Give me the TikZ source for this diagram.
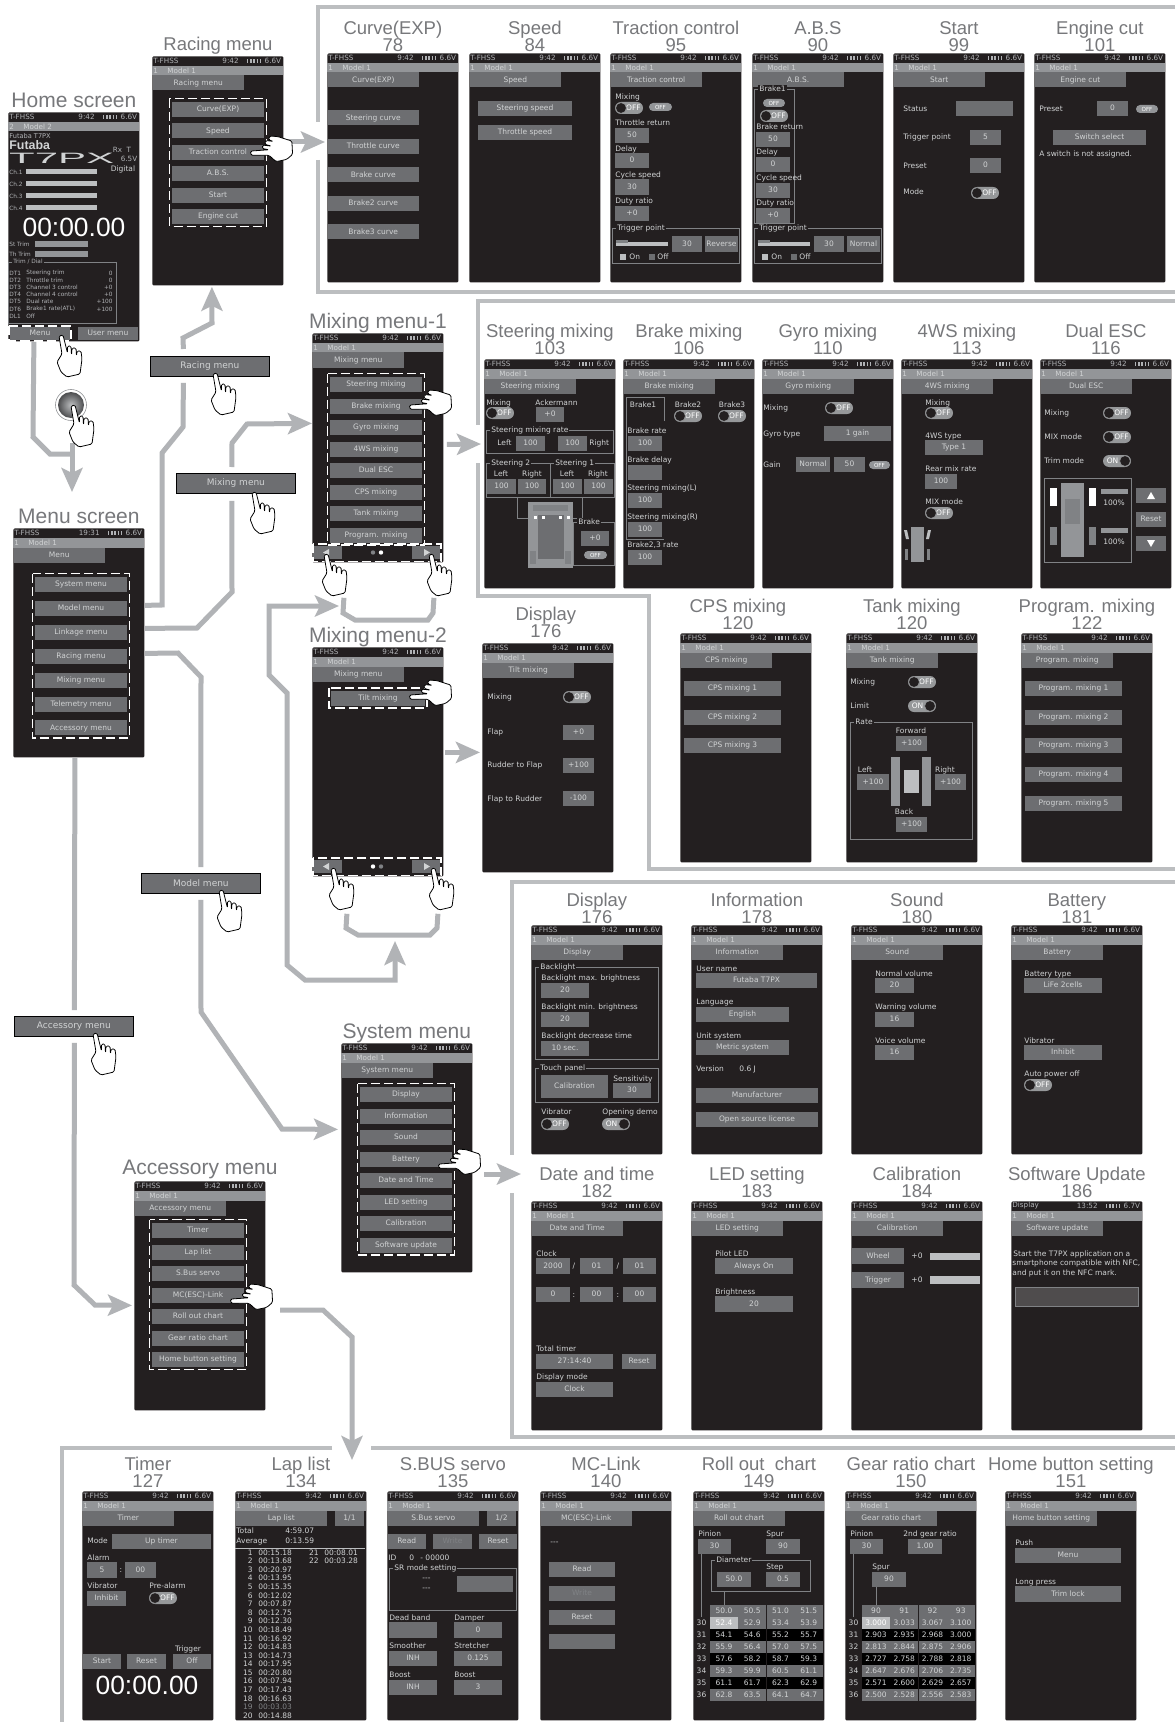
\documentclass[tikz,border=0pt]{standalone}
\usepackage{fontspec}
\setmainfont{Liberation Sans}
\newfontfamily\scfont{DejaVu Sans}
\usetikzlibrary{arrows.meta,calc}

\definecolor{scrbg}{HTML}{231F20}
\definecolor{btnc}{HTML}{6D6E71}
\definecolor{barc}{HTML}{939598}
\definecolor{scrtxt}{HTML}{D1D3D4}
\definecolor{sttxt}{HTML}{B1B3B6}
\definecolor{dimc}{HTML}{808285}
\definecolor{hic}{HTML}{BCBEC0}
\definecolor{ttlc}{HTML}{77787B}
\definecolor{lnc}{HTML}{B1B3B6}
\definecolor{grpc}{HTML}{808285}

\newcounter{nd}
\newcommand{\sctiny}{\scfont\fontsize{3.75}{4.4}\selectfont}
\tikzset{
	nm/.code={\stepcounter{nd}\tikzset{name=t\arabic{nd}}},
	scrbox/.style={fill=scrbg, rounded corners=0.6pt, inner sep=0pt, minimum width=65.5pt, minimum height=114.5pt},
	ttl/.style={anchor=south, inner sep=0pt, yshift=0.5pt, text depth=0pt, align=center, text=ttlc, font=\fontsize{9.25}{8.6}\selectfont},
	bigttl/.style={ttl, yshift=1.5pt, font=\fontsize{10.5}{9}\selectfont},
	sc/.style={nm, inner sep=0pt, text=scrtxt, text height=2.9pt, text depth=0.7pt, font=\sctiny},
	lab/.style={sc, anchor=west},
	stlab/.style={nm, inner sep=0pt, text=sttxt, font=\scfont\fontsize{3.6}{4}\selectfont},
	tinylab/.style={stlab, font=\scfont\fontsize{2.9}{3}\selectfont},
	conn/.style={draw=lnc, line width=2.5pt},
	arr/.style={conn, -{Stealth[length=12pt,width=10.5pt,inset=2.5pt]}},
	frm/.style={draw=hic, line width=2pt},
	dashbox/.style={draw=white, line width=0.85pt, dash pattern=on 4.6pt off 2pt},
	grpline/.style={draw=grpc, line width=0.4pt},
	menubtn/.style={draw=black, line width=0.4pt, fill=btnc, inner sep=0pt, minimum width=59.5pt, minimum height=10pt,
		text=scrtxt, font=\scfont\fontsize{4.5}{5}\selectfont},
	bigtime/.style={nm, inner sep=0pt, text=white, font=\fontsize{13.2}{14}\selectfont},
	hand/.pic={
		\draw[fill=white, line width=0.4pt, rounded corners=0.7pt, line join=round]
			(-1,1) -- (2,19) -- (-3,27) -- (1,37) -- (7,42) -- (20,39) -- (22,24) -- (21,16) -- (17,16)
			-- (16.5,21) -- (16,13) -- (12,13) -- (11.5,20) -- (11,11) -- (7.5,11) -- (7.5,18) -- (3,0) -- cycle;
	}
}

\def\sttag{T-FHSS}\def\sttime{9:42}\def\stvolt{6.6V}\def\stnum{1}\def\stmodel{Model 1}

% button from corner to corner
\newcommand{\btn}[5]{\path[fill=btnc] (#1,#2) rectangle node[sc] {#5} (#3,#4);}
\newcommand{\dimbtn}[5]{\path[fill=btnc] (#1,#2) rectangle node[sc,text=dimc] {#5} (#3,#4);}
\newcommand{\lab}[3]{\node[lab] at (#1,#2) {#3};}
\newcommand{\tog}[2]{
	\fill[hic!80!black, rounded corners=3pt] (#1,#2) rectangle (#1+28,#2+12);
	\node[sc, text=white] at (#1+18.5,#2+6) {OFF};
	\draw[fill=scrbg, draw=hic!80!black, line width=0.3pt] (#1+6,#2+6) circle (2.7pt);}
\newcommand{\togon}[2]{
	\fill[hic!80!black, rounded corners=3pt] (#1,#2) rectangle (#1+28,#2+12);
	\node[sc, text=white] at (#1+9.5,#2+6) {ON};
	\draw[fill=scrbg, draw=hic!80!black, line width=0.3pt] (#1+22,#2+6) circle (2.7pt);}
\newcommand{\pill}[3]{
	\path[fill=barc, rounded corners=2pt] (#1,#3-4) rectangle node[sc, text=white, font=\scfont\fontsize{2.8}{3}\selectfont] {OFF} (#2,#3+4);}
\newcommand{\grp}[5]{
	\draw[grpline] (#1,#2) rectangle (#3,#4);
	\node[lab, fill=scrbg, inner xsep=0.5pt] at (#1+4,#2) {#5};}

% one transmitter screen with its title
\newcommand{\scrn}[8][ttl]{
	\node[scrbox, anchor=north west] (#2) at (#3,#4) {};
	\node[#1] (#2t) at (#2.north) {#5};
	\begin{scope}[shift={(#3,#4)}]
		\node[stlab, anchor=west] at (1,5) {\sttag};
		\node[stlab, anchor=east] at (87,5) {\sttime};
		\draw[sttxt, line width=1.6pt, dash pattern=on 0.7pt off 0.9pt] (95,5) -- (110,5);
		\node[stlab, anchor=east] at (129.5,5) {\stvolt};
		\fill[barc] (0.3,10) rectangle (130.7,19.5);
		\node[stlab, anchor=west, text=scrtxt] at (1,14.8) {\stnum};
		\node[stlab, anchor=west, text=scrtxt] at (15,14.8) {\stmodel};
		\ifnum#7>0 \btn{0.5}{19.5}{#7}{34.5}{#6}\fi
		#8
	\end{scope}}

% list of menu entries inside the dashed frame
\newcommand{\menulist}[5]{
	\foreach \itm [count=\i] in {#5} {
		\pgfmathsetmacro\yy{#2+(\i-1)*#3}
		\pgfmathsetmacro\yb{\yy+15}
		\pgfmathsetmacro\xb{#1+92}
		\btn{#1}{\yy}{\xb}{\yb}{\itm}
	}
	\draw[dashbox] (#1-2.5,#2-3.5) rectangle (#1+94.5,#2+#4*#3-#3+17.5);}

% page buttons at the foot of the mixing menus
\newcommand{\navbar}[2]{
	\fill[btnc] (1,213) rectangle (30,226);
	\fill[btnc] (100,213) rectangle (128,226);
	\fill[scrtxt] (11,219.5) -- (17,216) -- (17,223) -- cycle;
	\fill[scrtxt] (118,219.5) -- (112,216) -- (112,223) -- cycle;
	\fill[#1] (61,219.5) circle (1.1pt);
	\fill[#2] (69,219.5) circle (1.1pt);
	\draw[dashbox] (1,211) rectangle (129,228.5);}

\newcommand{\trigbox}[1]{
	\grp{2}{175}{129}{210}{Trigger point}
	\fill[hic] (6,189) rectangle (58,193);
	\fill[dimc] (6,187) rectangle (18,190);
	\btn{62}{183}{92}{199}{30}
	\btn{95}{183}{128}{199}{#1}
	\fill[hic] (10,201) rectangle (16,207);
	\lab{19}{204}{On}
	\fill[btnc] (39,201) rectangle (45,207);
	\lab{47}{204}{Off}}

% pinion table of the two charts
\newcommand{\chart}[3]{
	\foreach \h [count=\i] in {#1} {
		\pgfmathsetmacro\xa{17+(\i-1)*28.25}
		\pgfmathsetmacro\xb{\xa+28}
		\btn{\xa}{114}{\xb}{126}{\h}
	}
	\foreach \n/\a/\b/\c/\d [count=\j] in {#2} {
		\pgfmathsetmacro\ya{126+(\j-1)*12}
		\pgfmathsetmacro\yb{\ya+11.6}
		\ifodd\j\def\rc{btnc}\else\def\rc{black}\fi
		\node[sc] at (8.5,\ya+6) {\n};
		\foreach \v [count=\i] in {\a,\b,\c,\d} {
			\pgfmathsetmacro\xa{17+(\i-1)*28.25}
			\pgfmathsetmacro\xb{\xa+28}
			\path[fill=\rc] (\xa,\ya) rectangle node[sc] {\v} (\xb,\yb);
		}
	}
	\path[fill=hic] (17,126) rectangle node[sc, text=white] {#3} (45,137.6);}

\begin{document}
\begin{tikzpicture}[x=0.5pt,y=-0.5pt]
	\fill[white] (0,0) rectangle (1175,1722);
	\useasboundingbox (0,0) rectangle (1175,1722);

	% frames round the groups of screens
	\draw[frm] (1175,7.5) -- (318,7.5) -- (318,122);
	\draw[frm] (318,160) -- (318,292) -- (1175,292);
	\draw[frm] (1175,301.5) -- (478,301.5) -- (478,425);
	\draw[frm] (478,463) -- (478,596) -- (648.5,596) -- (648.5,869) -- (1175,869);
	\draw[frm] (1175,881.5) -- (512,881.5) -- (512,1155);
	\draw[frm] (512,1193) -- (512,1437) -- (1175,1437);
	\draw[frm] (332,1448) -- (62,1448) -- (62,1722);
	\draw[frm] (371,1448) -- (1175,1448);

	% menus on the left
	\def\stnum{2}\def\stmodel{Model 2}
	\scrn[bigttl]{home}{8}{112}{Home screen}{}{0}{
		\node[tinylab, anchor=west, font=\scfont\fontsize{3.3}{3.5}\selectfont] at (1,24.5) {Futaba T7PX};
		\node[nm, anchor=west, inner sep=0pt, text=scrtxt, text height=4.4pt, text depth=0pt, font=\bfseries\fontsize{6.2}{6.4}\selectfont] at (1,33.5) {Futaba};
		\node[nm, anchor=west, inner sep=0pt, text=scrtxt, text height=5.4pt, text depth=0pt, xscale=2.8, font=\fontsize{7.5}{8}\selectfont] at (0,46.5) {T7PX};
		\node[stlab] at (114,38) {Rx \ T};
		\node[stlab] at (121,47) {6.5V};
		\node[sc] at (115,57) {Digital};
		\foreach \c/\y in {1/60,2/72,3/84,4/96} {
			\node[tinylab, anchor=west] at (1,\y) {Ch.\c};
			\fill[hic] (18,\y-2.5) rectangle (89,\y+2.5);
		}
		\node[bigtime] at (66,115) {00:00.00};
		\node[tinylab, anchor=west] at (1,132) {St Trim};
		\fill[barc] (27,129) rectangle (80,135);
		\node[tinylab, anchor=west] at (1,142) {Th Trim};
		\fill[barc] (27,139) rectangle (80,145);
		\draw[grpline] (0.5,150) rectangle (108,211);
		\node[tinylab, fill=scrbg, anchor=west, inner xsep=0.5pt] at (4,150) {Trim / Dial};
		\foreach \a/\b/\v [count=\i] in {DT1/Steering trim/0,DT2/Throttle trim/0,DT3/Channel 3 control/+0,DT4/Channel 4 control/+0,DT5/Dual rate/+100,DT6/Brake1 rate(ATL)/+100,DL1/Off/} {
			\pgfmathsetmacro\yy{161+(\i-1)*7.2}
			\node[tinylab, anchor=west] at (1,\yy) {\a};
			\node[tinylab, anchor=west] at (18,\yy) {\b};
			\node[tinylab, anchor=east] at (105,\yy) {\v};
		}
		\btn{2}{215}{62}{228}{Menu}
		\btn{70}{215}{130}{228}{User menu}
		\draw[dashbox] (1,214) rectangle (63,229);
	}
	\def\stnum{1}\def\stmodel{Model 1}

	\scrn[ttl,yshift=2.2pt]{racing}{152}{56}{Racing menu}{Racing menu}{92}{
		\menulist{20}{46}{21.4}{6}{Curve(EXP),Speed,Traction control,A.B.S.,Start,Engine cut}
	}
	\def\sttime{19:31}
	\scrn[bigttl]{menu}{13}{528}{Menu screen}{Menu}{92}{
		\menulist{22}{49}{23.9}{7}{System menu,Model menu,Linkage menu,Racing menu,Mixing menu,Telemetry menu,Accessory menu}
	}
	\def\sttime{9:42}
	\scrn[bigttl]{mixa}{312}{333}{Mixing menu-1}{Mixing menu}{92}{
		\menulist{18}{44}{21.5}{8}{Steering mixing,Brake mixing,Gyro mixing,4WS mixing,Dual ESC,CPS mixing,Tank mixing,Program. mixing}
		\navbar{dimc}{white}
	}
	\scrn[bigttl]{mixb}{312}{647}{Mixing menu-2}{Mixing menu}{92}{
		\btn{19}{44}{113}{59}{Tilt mixing}
		\draw[dashbox] (17,41) rectangle (115,61);
		\navbar{white}{dimc}
	}
	\scrn[bigttl]{system}{341}{1043}{System menu}{System menu}{92}{
		\menulist{19}{44}{21.5}{8}{Display,Information,Sound,Battery,Date and Time,LED setting,Calibration,Software update}
	}
	\scrn[bigttl,yshift=1pt]{access}{134}{1181}{Accessory menu}{Accessory menu}{92}{
		\menulist{18}{42}{21.5}{7}{Timer,Lap list,S.Bus servo,MC(ESC)-Link,Roll out chart,Gear ratio chart,Home button setting}
	}

	% racing screens
	\scrn{curve}{327}{53}{Curve(EXP)\\78}{Curve(EXP)}{92}{
		\foreach \t/\y in {Steering curve/57.5,Throttle curve/86,Brake curve/114.5,Brake2 curve/143,Brake3 curve/171.5} {
			\pgfmathsetmacro\yb{\y+15}
			\btn{0.5}{\y}{92}{\yb}{\t}
		}
	}
	\scrn{speed}{469}{53}{Speed\\84}{Speed}{92}{
		\btn{9}{48}{103}{63}{Steering speed}
		\btn{9}{72}{103}{87}{Throttle speed}
	}
	\scrn{traction}{610}{53}{Traction control\\95}{Traction control}{92}{
		\lab{5}{44}{Mixing}
		\tog{5}{49}
		\pill{39}{62}{54}
		\lab{5}{70}{Throttle return}
		\btn{5}{75}{39}{90}{50}
		\lab{5}{96}{Delay}
		\btn{5}{100}{39}{115}{0}
		\lab{5}{122}{Cycle speed}
		\btn{5}{126}{39}{142}{30}
		\lab{5}{148}{Duty ratio}
		\btn{5}{153}{39}{168}{+0}
		\trigbox{Reverse}
	}
	\scrn{abs}{752}{53}{A.B.S\\90}{A.B.S.}{92}{
		\grp{2}{36}{42}{170}{Brake1}
		\pill{11}{33}{50}
		\tog{8}{57}
		\lab{4}{74.5}{Brake return}
		\btn{4}{79}{38}{94}{50}
		\lab{4}{99}{Delay}
		\btn{4}{104}{38}{119}{0}
		\lab{4}{125}{Cycle speed}
		\btn{4}{130}{38}{145}{30}
		\lab{4}{150}{Duty ratio}
		\btn{4}{155}{38}{170}{+0}
		\trigbox{Normal}
	}
	\scrn{start}{893}{53}{Start\\99}{Start}{92}{
		\lab{10}{56}{Status}
		\btn{63}{48}{120}{63}{}
		\lab{10}{84}{Trigger point}
		\btn{77}{77}{108}{92}{5}
		\lab{10}{113}{Preset}
		\btn{77}{105}{108}{120}{0}
		\lab{10}{139}{Mode}
		\tog{78}{134}
	}
	\scrn{engine}{1034}{53}{Engine cut\\101}{Engine cut}{92}{
		\lab{5}{56}{Preset}
		\btn{63}{48}{94}{63}{0}
		\pill{102}{124}{56}
		\btn{19}{77}{112}{92}{Switch select}
		\lab{5}{101}{A switch is not assigned.}
	}

	% mixing screens
	\scrn[ttl,yshift=1.5pt]{steering}{484}{359}{Steering mixing\\103}{Steering mixing}{92}{
		\lab{2}{44}{Mixing}
		\tog{2}{48}
		\lab{51}{44}{Ackermann}
		\btn{52}{48}{80}{63}{+0}
		\grp{2}{71}{129.5}{94}{Steering mixing rate}
		\lab{13}{84}{Left}
		\btn{32}{77}{61}{92}{100}
		\btn{74}{77}{103}{92}{100}
		\lab{105}{84}{Right}
		\grp{2}{104}{66}{138}{Steering 2}
		\grp{66}{104}{130}{138}{Steering 1}
		\foreach \t/\x in {Left/17,Right/48,Left/83,Right/114} \node[sc] at (\x,115) {\t};
		\btn{3}{120}{32}{135}{100}
		\btn{34}{120}{62}{135}{100}
		\btn{69}{120}{98}{135}{100}
		\btn{100}{120}{129}{135}{100}
		\draw[grpline] (33,138) -- (33,159) -- (44,159);
		\draw[grpline] (98,138) -- (98,159) -- (89,159);
		\fill[barc] (44,143) rectangle (89,209);
		\fill[dimc] (49,146) rectangle (84,152);
		\fill[btnc] (54,156) rectangle (80,200);
		\fill[dimc] (46,192) rectangle (52,205);
		\fill[dimc] (81,192) rectangle (87,205);
		\foreach \x in {50,58,75,83} \fill[white] (\x,157) rectangle (\x+3,160);
		\grp{89}{163}{130}{206}{Brake}
		\btn{97}{172}{125}{187}{+0}
		\pill{100}{123}{196}
	}
	\scrn[ttl,yshift=1.5pt]{brake}{623}{359}{Brake mixing\\106}{Brake mixing}{92}{
		\draw[grpline] (41,62) -- (41,38) -- (3,38) -- (3,180) -- (41,180);
		\node[sc] at (20,46) {Brake1};
		\node[sc] at (65,46) {Brake2};
		\node[sc] at (109,46) {Brake3};
		\tog{51}{51}
		\tog{95}{51}
		\lab{4}{72}{Brake rate}
		\btn{5}{77}{39}{92}{100}
		\lab{4}{101}{Brake delay}
		\btn{5}{106}{39}{121}{}
		\lab{4}{129}{Steering mixing(L)}
		\btn{5}{134}{39}{149}{100}
		\lab{4}{158}{Steering mixing(R)}
		\btn{5}{163}{39}{178}{100}
		\lab{4}{186}{Brake2,3 rate}
		\btn{5}{191}{39}{206}{100}
	}
	\scrn[ttl,yshift=1.5pt]{gyro}{762}{359}{Gyro mixing\\110}{Gyro mixing}{92}{
		\lab{1}{49}{Mixing}
		\tog{63}{43}
		\lab{1}{75}{Gyro type}
		\btn{62}{67}{129}{82}{1 gain}
		\lab{1}{106}{Gain}
		\btn{34}{98}{68}{113}{Normal}
		\btn{72}{98}{103}{113}{50}
		\pill{107}{128}{106}
	}
	\scrn[ttl,yshift=1.5pt]{fourws}{901}{359}{4WS mixing\\113}{4WS mixing}{92}{
		\lab{24}{44}{Mixing}
		\tog{24}{48}
		\lab{24}{77}{4WS type}
		\btn{24}{81}{82}{96}{Type 1}
		\lab{24}{110}{Rear mix rate}
		\btn{24}{115}{56}{130}{100}
		\lab{24}{143}{MIX mode}
		\tog{24}{148}
		\fill[barc] (10,168) rectangle (23,203);
		\fill[hic] (3,171) -- (6,171) -- (8,180) -- (5,180) -- cycle;
		\fill[hic] (30,171) -- (27,171) -- (25,180) -- (28,180) -- cycle;
		\fill[dimc] (4,190) rectangle (7,201);
		\fill[dimc] (26,190) rectangle (29,201);
	}
	\scrn[ttl,yshift=1.5pt]{dualesc}{1040}{359}{Dual ESC\\116}{Dual ESC}{92}{
		\lab{4}{54}{Mixing}
		\tog{63}{48}
		\lab{4}{78}{MIX mode}
		\tog{63}{72}
		\lab{4}{102}{Trim mode}
		\togon{63}{96}
		\draw[grpline] (4,119) rectangle (91,203);
		\fill[white] (10,129) rectangle (17,147);
		\fill[white] (49,129) rectangle (56,147);
		\fill[dimc] (10,168) rectangle (17,186);
		\fill[dimc] (49,168) rectangle (56,186);
		\fill[barc] (21,124) rectangle (44,198);
		\fill[dimc] (25,140) rectangle (40,165);
		\fill[barc] (61,130) rectangle (88,135);
		\node[sc] at (74,144) {100\%};
		\fill[barc] (61,169) rectangle (88,174);
		\node[sc] at (74,183) {100\%};
		\btn{96}{129}{126}{144}{}
		\fill[white] (111,133) -- (115,140) -- (107,140) -- cycle;
		\btn{96}{153}{126}{168}{Reset}
		\btn{96}{177}{126}{192}{}
		\fill[white] (111,188) -- (115,181) -- (107,181) -- cycle;
	}
	\scrn[ttl,xshift=-4pt,yshift=1pt]{cps}{680}{633}{CPS mixing\\120}{CPS mixing}{92}{
		\btn{4}{48}{101}{63}{CPS mixing 1}
		\btn{4}{77}{101}{92}{CPS mixing 2}
		\btn{4}{105}{101}{120}{CPS mixing 3}
	}
	\scrn[ttl,yshift=1pt]{tank}{846}{633}{Tank mixing\\120}{Tank mixing}{92}{
		\lab{4}{49}{Mixing}
		\tog{62}{43}
		\lab{4}{73}{Limit}
		\togon{62}{67}
		\grp{4}{89}{126}{206}{Rate}
		\node[sc] at (65,98) {Forward};
		\btn{50}{103}{81}{118}{+100}
		\node[sc] at (19,137) {Left};
		\btn{11}{141}{43}{157}{+100}
		\fill[barc] (45,124) rectangle (54,173);
		\fill[barc] (76,124) rectangle (85,173);
		\fill[hic] (58,137) rectangle (73,160);
		\node[sc] at (99,137) {Right};
		\btn{89}{141}{120}{157}{+100}
		\node[sc] at (58,179) {Back};
		\btn{50}{184}{81}{199}{+100}
	}
	\scrn[ttl,yshift=1pt]{prog}{1021}{633}{Program. mixing\\122}{Program. mixing}{92}{
		\foreach \i/\y in {1/48,2/77,3/105,4/134,5/163} {
			\pgfmathsetmacro\yb{\y+15}
			\btn{4}{\y}{101}{\yb}{Program. mixing \i}
		}
	}
	\scrn[ttl,xshift=-1pt,yshift=2pt]{tilt}{482}{643}{Display\\176}{Tilt mixing}{92}{
		\lab{5}{54}{Mixing}
		\tog{81}{48}
		\lab{5}{89}{Flap}
		\btn{81}{82}{112}{97}{+0}
		\lab{5}{122}{Rudder to Flap}
		\btn{81}{115}{112}{130}{+100}
		\lab{5}{156}{Flap to Rudder}
		\btn{81}{148}{112}{163}{-100}
	}

	% system screens
	\scrn{display}{531}{925}{Display\\176}{Display}{92}{
		\grp{4}{42}{127}{134}{Backlight}
		\lab{10}{53}{Backlight max. brightness}
		\btn{10}{58}{58}{73}{20}
		\lab{10}{82}{Backlight min. brightness}
		\btn{10}{87}{58}{102}{20}
		\lab{10}{111}{Backlight decrease time}
		\btn{10}{116}{58}{131}{10 sec.}
		\grp{4}{143}{127}{177}{Touch panel}
		\btn{10}{150}{77}{173}{Calibration}
		\lab{82}{154}{Sensitivity}
		\btn{82}{158}{120}{173}{30}
		\lab{10}{187}{Vibrator}
		\tog{10}{193}
		\lab{71}{187}{Opening demo}
		\togon{71}{193}
	}
	\scrn{info}{691}{925}{Information\\178}{Information}{92}{
		\lab{5}{44}{User name}
		\btn{5}{48}{126}{63}{Futaba T7PX}
		\lab{5}{77}{Language}
		\btn{5}{82}{98}{97}{English}
		\lab{5}{111}{Unit system}
		\btn{5}{115}{98}{130}{Metric system}
		\lab{5}{144}{Version}
		\lab{48}{144}{0.6 J}
		\btn{5}{163}{127}{178}{Manufacturer}
		\btn{5}{187}{127}{202}{Open source license}
	}
	\scrn{sound}{851}{925}{Sound\\180}{Sound}{92}{
		\lab{24}{49}{Normal volume}
		\btn{24}{53}{63}{68}{20}
		\lab{24}{82}{Warning volume}
		\btn{24}{87}{63}{102}{16}
		\lab{24}{116}{Voice volume}
		\btn{24}{120}{63}{135}{16}
	}
	\scrn{battery}{1011}{925}{Battery\\181}{Battery}{92}{
		\lab{13}{49}{Battery type}
		\btn{13}{53}{91}{68}{LiFe 2cells}
		\lab{13}{116}{Vibrator}
		\btn{13}{120}{91}{135}{Inhibit}
		\lab{13}{149}{Auto power off}
		\tog{13}{154}
	}
	\scrn[ttl,yshift=1pt]{date}{531}{1201}{Date and time\\182}{Date and Time}{92}{
		\lab{5}{53}{Clock}
		\btn{5}{57}{39}{73}{2000}
		\node[sc] at (43,65) {/};
		\btn{49}{57}{82}{73}{01}
		\node[sc] at (87,65) {/};
		\btn{92}{57}{125}{73}{01}
		\btn{5}{86}{39}{101}{0}
		\node[sc] at (43,94) {:};
		\btn{49}{86}{82}{101}{00}
		\node[sc] at (87,94) {:};
		\btn{92}{86}{125}{101}{00}
		\lab{5}{148}{Total timer}
		\btn{5}{153}{82}{168}{27:14:40}
		\btn{91}{153}{125}{168}{Reset}
		\lab{5}{176}{Display mode}
		\btn{5}{181}{82}{196}{Clock}
	}
	\scrn[ttl,yshift=1pt]{led}{691}{1201}{LED setting\\183}{LED setting}{92}{
		\lab{24}{53}{Pilot LED}
		\btn{24}{57}{102}{73}{Always On}
		\lab{24}{91}{Brightness}
		\btn{24}{95}{102}{111}{20}
	}
	\scrn[ttl,yshift=1pt]{calib}{851}{1201}{Calibration\\184}{Calibration}{92}{
		\btn{1}{47}{53}{63}{Wheel}
		\node[sc] at (66,55) {+0};
		\fill[hic] (79,52) rectangle (129,59);
		\btn{1}{71}{53}{87}{Trigger}
		\node[sc] at (66,79) {+0};
		\fill[hic] (79,75) rectangle (129,83);
	}
	\def\sttag{Display}\def\sttime{13:52}\def\stvolt{6.7V}
	\scrn[ttl,yshift=1pt]{update}{1011}{1201}{Software Update\\186}{Software update}{92}{
		\lab{2}{53}{Start the T7PX application on a}
		\lab{1}{62}{smartphone compatible with NFC,}
		\lab{1}{72}{and put it on the NFC mark.}
		\draw[fill=scrbg!80!white, draw=dimc, line width=0.5pt] (4,86) rectangle (127,105);
	}
	\def\sttag{T-FHSS}\def\sttime{9:42}\def\stvolt{6.6V}

	% accessory screens
	\tikzset{ttlb/.style={ttl, yshift=1.2pt}}
	\scrn[ttlb]{timer}{82}{1491}{Timer\\127}{Timer}{92}{
		\lab{5}{50}{Mode}
		\btn{30}{43}{129}{58}{Up timer}
		\lab{5}{67}{Alarm}
		\btn{5}{71}{35}{87}{5}
		\node[sc] at (39,79) {:};
		\btn{43}{71}{74}{87}{00}
		\lab{5}{95}{Vibrator}
		\lab{67}{95}{Pre-alarm}
		\btn{5}{100}{44}{115}{Inhibit}
		\tog{67}{101}
		\node[sc] at (106,158) {Trigger};
		\btn{1}{163}{39}{178}{Start}
		\btn{45}{163}{84}{178}{Reset}
		\btn{91}{163}{129}{178}{Off}
		\node[bigtime] at (65,194) {00:00.00};
	}
	\scrn[ttlb]{lap}{235}{1491}{Lap list\\134}{Lap list}{92}{
		\btn{100}{19.5}{129}{34.5}{1/1}
		\lab{1}{40}{Total}
		\lab{50}{40}{4:59.07}
		\lab{1}{50}{Average}
		\lab{50}{50}{0:13.59}
		\draw[hic, line width=0.4pt] (0,57) -- (130,57);
		\foreach \t [count=\i] in {00:15.18,00:13.68,00:20.97,00:13.95,00:15.35,00:12.02,00:07.87,00:12.75,00:12.30,00:18.49,00:16.92,00:14.83,00:14.73,00:17.95,00:20.80,00:07.94,00:17.43,00:16.63} {
			\pgfmathsetmacro\yy{62+(\i-1)*8.58}
			\node[sc, anchor=east] at (18,\yy) {\i};
			\lab{23}{\yy}{\t}
		}
		\node[sc, anchor=east, text=dimc] at (18,216.4) {19};
		\node[lab, text=dimc] at (23,216.4) {00:03.03};
		\node[sc, anchor=east] at (18,225) {20};
		\lab{23}{225}{00:14.88}
		\node[sc, anchor=east] at (84,62) {21};
		\lab{89}{62}{00:08.01}
		\node[sc, anchor=east] at (84,70.6) {22};
		\lab{89}{70.6}{00:03.28}
	}
	\scrn[ttlb]{sbus}{387}{1491}{S.BUS servo\\135}{S.Bus servo}{92}{
		\btn{100}{19.5}{129}{34.5}{1/2}
		\btn{0.5}{43}{39}{58}{Read}
		\dimbtn{46}{43}{85}{58}{Write}
		\btn{92}{43}{130}{58}{Reset}
		\lab{1}{67}{ID}
		\lab{22}{67}{0}
		\lab{33}{67}{- 00000}
		\grp{2}{77}{129}{119}{SR mode setting}
		\lab{35}{87}{---}
		\lab{35}{97}{---}
		\btn{70}{85}{126}{101}{}
		\lab{2}{127}{Dead band}
		\btn{2}{131}{50}{147}{}
		\lab{67}{127}{Damper}
		\btn{67}{131}{115}{147}{0}
		\lab{2}{155}{Smoother}
		\btn{2}{160}{50}{175}{INH}
		\lab{67}{155}{Stretcher}
		\btn{67}{160}{115}{175}{0.125}
		\lab{2}{184}{Boost}
		\btn{2}{189}{50}{204}{INH}
		\lab{67}{184}{Boost}
		\btn{67}{189}{115}{204}{3}
	}
	\scrn[ttlb]{mclink}{540}{1491}{MC-Link\\140}{MC(ESC)-Link}{92}{
		\lab{10}{51}{---}
		\btn{9}{71}{75}{86}{Read}
		\dimbtn{9}{95}{75}{110}{Write}
		\btn{9}{119}{75}{134}{Reset}
		\btn{9}{143}{75}{158}{}
	}
	\scrn[ttlb]{rollout}{693}{1491}{Roll out\ \ chart\\149}{Roll out chart}{92}{
		\lab{5}{43}{Pinion}
		\btn{5}{48}{38}{63}{30}
		\lab{73}{43}{Spur}
		\btn{73}{48}{107}{63}{90}
		\grp{18}{69}{117}{100}{Diameter}
		\lab{73}{76}{Step}
		\btn{24}{81}{58}{96}{50.0}
		\btn{73}{81}{107}{96}{0.5}
		\draw[grpline] (8,63) -- (8,126);
		\draw[grpline] (31,100) -- (31,114);
		\chart{50.0,50.5,51.0,51.5}{30/52.4/52.9/53.4/53.9,31/54.1/54.6/55.2/55.7,32/55.9/56.4/57.0/57.5,33/57.6/58.2/58.7/59.3,34/59.3/59.9/60.5/61.1,35/61.1/61.7/62.3/62.9,36/62.8/63.5/64.1/64.7}{52.4}
	}
	\scrn[ttlb]{gear}{845}{1491}{Gear ratio chart\\150}{Gear ratio chart}{92}{
		\lab{5}{43}{Pinion}
		\btn{5}{48}{38}{63}{30}
		\lab{58}{43}{2nd gear ratio}
		\btn{63}{48}{97}{63}{1.00}
		\lab{27}{76}{Spur}
		\btn{27}{81}{61}{96}{90}
		\draw[grpline] (8,63) -- (8,126);
		\draw[grpline] (31,96) -- (31,114);
		\chart{90,91,92,93}{30/3.000/3.033/3.067/3.100,31/2.903/2.935/2.968/3.000,32/2.813/2.844/2.875/2.906,33/2.727/2.758/2.788/2.818,34/2.647/2.676/2.706/2.735,35/2.571/2.600/2.629/2.657,36/2.500/2.528/2.556/2.583}{3.000}
	}
	\scrn[ttlb]{homeset}{1005}{1491}{Home button setting\\151}{Home button setting}{92}{
		\lab{10}{52}{Push}
		\btn{10}{57}{116}{72}{Menu}
		\lab{10}{91}{Long press}
		\btn{10}{95}{116}{111}{Trim lock}
	}

	% buttons that stand on the connectors
	\node[menubtn, anchor=north west] (racingbtn) at (150,356) {Racing menu};
	\node[menubtn, anchor=north west] (mixingbtn) at (176,473) {Mixing menu};
	\node[menubtn, anchor=north west] (modelbtn) at (141,873) {Model menu};
	\node[menubtn, anchor=north west] (accessbtn) at (14,1016) {Accessory menu};
	\node[circle, draw=barc, fill=white, line width=0.3pt, inner sep=0pt, minimum size=15.5pt] (homekey) at (71,405) {};
	\node[circle, inner color=hic, outer color=btnc!70!black, inner sep=0pt, minimum size=13pt] (homekeyin) at (homekey) {};

	% connectors
	\coordinate (menutop) at (72,492);
	\coordinate (keyout) at (72,443);
	\draw[arr] (keyout) -- (menutop);
	\draw[conn] ($(home.south)+(-40,0)$) -- (33,437) -- (50,454) -- (72,454);
	\draw[conn] ($(menu.east)+(0,-37.5)$) -- (162,605) -- (162,453) -- (183,427) -- ($(racingbtn.south)+(-26.5,6)$);
	\draw[arr] ($(racingbtn.north)+(-26.5,-7)$) -- (183,338) -- (212,323) -- ($(racing.south)+(-6,1)$);
	\draw[conn] ($(menu.east)+(0,-14.5)$) -- (197,628) -- (232,592) -- ($(mixingbtn.south)+(-4,7)$);
	\draw[arr] ($(mixingbtn.north)+(-4,-6)$) -- (232,443) -- (247,424) -- ($(mixa.west)+(0,-24.5)$);
	\draw[conn] ($(menu.east)+(0,10.5)$) -- (178,653) -- (201,677) -- ($(modelbtn.north)+(0,-6)$);
	\draw[arr] ($(modelbtn.south)+(0,6)$) -- (201,1012) -- (282,1129) -- ($(system.west)+(-3,-28.5)$);
	\draw[conn] ($(menu.south)+(-4,0)$) -- ($(accessbtn.north)+(0.5,-6)$);
	\draw[arr] ($(accessbtn.south)+(0.5,6)$) -- (74,1285) -- (95,1305) -- ($(access.west)+(-2,9.5)$);
	\coordinate (loopa) at (339,606);
	\coordinate (loopb) at (395,941);
	\draw[arr, {Stealth[length=12pt,width=10.5pt,inset=2.5pt]}-{Stealth[length=12pt,width=10.5pt,inset=2.5pt]}]
		(loopa) -- (269,606) -- (269,675) -- (287,693) -- (287,965) -- (305,980) -- (395,980) -- (loopb);
	\draw[conn] ($(mixa.south)+(-34,35)$) -- (343,613) -- (355,620) -- (428,620) -- (433,613) -- ($(mixa.south)+(56,35)$);
	\draw[conn] ($(mixb.south)+(-31,37)$) -- (346,928) -- (358,935) -- (430,935) -- (437,928) -- ($(mixb.south)+(60,37)$);
	\coordinate (racingout) at (287,142);
	\coordinate (racinggrp) at (325,142);
	\draw[arr] (racingout) -- (racinggrp);
	\coordinate (mixgrp) at (481,444);
	\draw[arr] ($(mixa.east)+(3,-3.5)$) -- (mixgrp);
	\draw[arr] ($(mixb.east)+(1,-9.5)$) -- ($(tilt.west)+(-2,-5.5)$);
	\coordinate (sysout) at (484,1174);
	\coordinate (sysgrp) at (521,1174);
	\draw[arr] (sysout) -- (sysgrp);
	\coordinate (accout) at (280,1310);
	\coordinate (accgrp) at (352,1460);
	\draw[arr] (accout) -- (323,1310) -- (352,1337) -- (accgrp);

	% hands
	\pic (handa) at (60,335) {hand};
	\pic (handb) at (72,405) {hand};
	\pic (handc) at (214,373) {hand};
	\pic[rotate=80] (handd) at (250,154) {hand};
	\pic (hande) at (253,492) {hand};
	\pic[rotate=80] (handf) at (409,408) {hand};
	\pic (handg) at (325,554) {hand};
	\pic (handh) at (430,554) {hand};
	\pic[rotate=80] (handi) at (409,698) {hand};
	\pic (handj) at (332,868) {hand};
	\pic (handk) at (432,868) {hand};
	\pic (handl) at (220,890) {hand};
	\pic (handm) at (94,1033) {hand};
	\pic[rotate=80] (handn) at (230,1302) {hand};
	\pic[rotate=80] (handp) at (438,1167) {hand};
\end{tikzpicture}
\end{document}
